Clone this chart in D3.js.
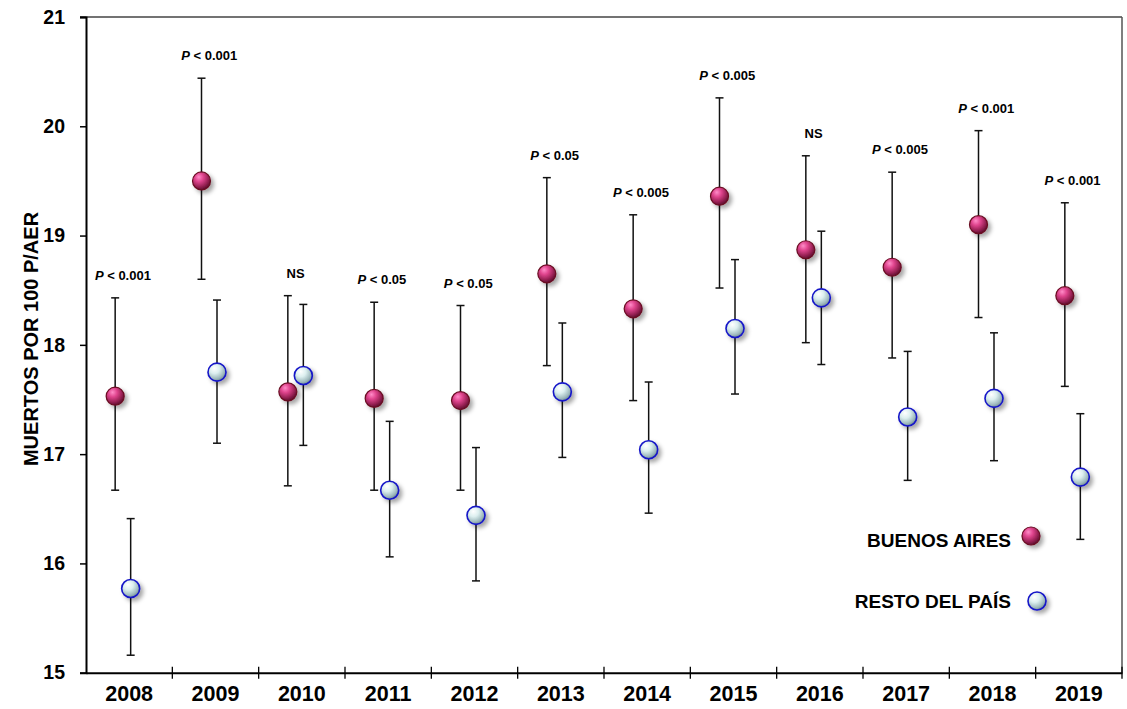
<!DOCTYPE html>
<html>
<head>
<meta charset="utf-8">
<script src="https://cdn.jsdelivr.net/npm/d3@7"></script>
<style>
  html, body { margin: 0; padding: 0; background: #fff; }
  svg { display: block; font-family: "Liberation Sans", Arial, sans-serif; }
  svg text { font-family: "Liberation Sans", Arial, sans-serif; font-weight: bold; fill: #000; }
</style>
</head>
<body>
<svg id="chart" width="1127" height="709"></svg>
<script>
const years = ["2008","2009","2010","2011","2012","2013","2014","2015","2016","2017","2018","2019"];
const baMean  = [17.53, 19.50, 17.57, 17.51, 17.49, 18.65, 18.33, 19.36, 18.87, 18.71, 19.10, 18.45];
const baUpper = [18.43, 20.44, 18.45, 18.39, 18.36, 19.53, 19.19, 20.26, 19.73, 19.58, 19.96, 19.30];
const baLower = [16.67, 18.60, 16.71, 16.67, 16.67, 17.81, 17.49, 18.52, 18.02, 17.88, 18.25, 17.62];
const restoMean  = [15.77, 17.75, 17.72, 16.67, 16.44, 17.57, 17.04, 18.15, 18.43, 17.34, 17.51, 16.79];
const restoUpper = [16.41, 18.41, 18.37, 17.30, 17.06, 18.20, 17.66, 18.78, 19.04, 17.94, 18.11, 17.37];
const restoLower = [15.16, 17.10, 17.08, 16.06, 15.84, 16.97, 16.46, 17.55, 17.82, 16.76, 16.94, 16.22];
const pLabels = ["0.001","0.001","NS","0.05","0.05","0.05","0.005","0.005","NS","0.005","0.001","0.001"];
const yTicks = [15, 16, 17, 18, 19, 20, 21];
const seriesNames = ["BUENOS AIRES", "RESTO DEL PAÍS"];
const yTitle = "MUERTOS POR 100 P/AER";

(function () {
const svg = d3.select("#chart");
const mLeft = 86, mTop = 17, mRight = 1122, mBottom = 672.7;

const x = d3.scaleBand().domain(years).range([mLeft, mRight]).padding(0);
const y = d3.scaleLinear().domain([15, 21]).range([mBottom, mTop]);

// defs: gradients and shadow
const defs = svg.append("defs");
const gBA = defs.append("radialGradient").attr("id", "gBA")
  .attr("cx", "38%").attr("cy", "32%").attr("r", "70%").attr("fx", "35%").attr("fy", "28%");
gBA.append("stop").attr("offset", "0%").attr("stop-color", "#ff8cc8");
gBA.append("stop").attr("offset", "35%").attr("stop-color", "#e0458e");
gBA.append("stop").attr("offset", "75%").attr("stop-color", "#952052");
gBA.append("stop").attr("offset", "100%").attr("stop-color", "#5a0e2c");
const gR = defs.append("radialGradient").attr("id", "gR")
  .attr("cx", "38%").attr("cy", "32%").attr("r", "70%").attr("fx", "35%").attr("fy", "28%");
gR.append("stop").attr("offset", "0%").attr("stop-color", "#ffffff");
gR.append("stop").attr("offset", "40%").attr("stop-color", "#dcefef");
gR.append("stop").attr("offset", "80%").attr("stop-color", "#9db8bc");
gR.append("stop").attr("offset", "100%").attr("stop-color", "#6f8a90");
const f = defs.append("filter").attr("id", "shadow").attr("x", "-50%").attr("y", "-50%").attr("width", "200%").attr("height", "200%");
f.append("feDropShadow").attr("dx", 3).attr("dy", 3).attr("stdDeviation", 2)
  .attr("flood-color", "#000").attr("flood-opacity", 0.35);

// frame top and right
svg.append("line").attr("x1", mLeft - 6).attr("x2", mRight).attr("y1", y(21)).attr("y2", y(21))
  .attr("stroke", "#444").attr("stroke-width", 1.5);
svg.append("line").attr("x1", mRight).attr("x2", mRight).attr("y1", y(21)).attr("y2", y(15))
  .attr("stroke", "#555").attr("stroke-width", 1.5);

// y axis
const yAxis = svg.append("g").attr("transform", `translate(${mLeft},0)`)
  .call(d3.axisLeft(y).tickValues(yTicks).tickFormat(d3.format("d")).tickSize(6).tickPadding(15));
yAxis.select(".domain").attr("stroke", "#000").attr("stroke-width", 2);
yAxis.selectAll(".tick line").attr("stroke", "#000").attr("stroke-width", 1.5);
yAxis.selectAll(".tick text").style("font-size", "19.5px").style("font-weight", "bold").style("fill", "#000");

// x axis
const xAxis = svg.append("g").attr("transform", `translate(0,${mBottom})`)
  .call(d3.axisBottom(x).tickSize(0).tickPadding(13.5));
xAxis.select(".domain").attr("stroke", "#000").attr("stroke-width", 2);
xAxis.selectAll(".tick text").style("font-size", "21.5px").style("font-weight", "bold").style("fill", "#000");
// separators between categories
const seps = years.map(d => x(d)).slice(1).concat([mRight]);
svg.append("g").selectAll("line").data(seps).join("line")
  .attr("x1", d => d).attr("x2", d => d).attr("y1", mBottom - 6).attr("y2", mBottom + 6)
  .attr("stroke", "#000").attr("stroke-width", 1.3);

// y title
svg.append("text").attr("transform", `translate(37.5,339) rotate(-90)`)
  .attr("text-anchor", "middle").style("font-size", "20px").text(yTitle);

const baX = d => x(d) + x.bandwidth() / 2 - 14;
const rX = d => x(d) + x.bandwidth() / 2 + 1.5;

function errorBars(xf, upper, lower) {
  const g = svg.append("g").attr("stroke", "#111").attr("stroke-width", 1.5);
  years.forEach((d, i) => {
    const cx = xf(d);
    g.append("line").attr("x1", cx).attr("x2", cx).attr("y1", y(upper[i])).attr("y2", y(lower[i]));
    g.append("line").attr("x1", cx - 4).attr("x2", cx + 4).attr("y1", y(upper[i])).attr("y2", y(upper[i]));
    g.append("line").attr("x1", cx - 4).attr("x2", cx + 4).attr("y1", y(lower[i])).attr("y2", y(lower[i]));
  });
}
errorBars(baX, baUpper, baLower);
errorBars(rX, restoUpper, restoLower);

// markers
svg.append("g").selectAll("circle").data(years).join("circle")
  .attr("cx", d => baX(d)).attr("cy", (d, i) => y(baMean[i])).attr("r", 9)
  .attr("fill", "url(#gBA)").attr("stroke", "#6a0c22").attr("stroke-width", 1.2)
  .attr("filter", "url(#shadow)");
svg.append("g").selectAll("circle").data(years).join("circle")
  .attr("cx", d => rX(d)).attr("cy", (d, i) => y(restoMean[i])).attr("r", 9)
  .attr("fill", "url(#gR)").attr("stroke", "#1414c8").attr("stroke-width", 1.6)
  .attr("filter", "url(#shadow)");

// p labels
const lab = svg.append("g").attr("text-anchor", "middle");
years.forEach((d, i) => {
  const cx = (baX(d) + rX(d)) / 2;
  const cy = y(Math.max(baUpper[i], restoUpper[i])) - 18;
  const t = lab.append("text").attr("x", cx).attr("y", cy).style("font-size", "13px");
  if (pLabels[i] === "NS") {
    t.text("NS");
  } else {
    t.append("tspan").style("font-style", "italic").text("P");
    t.append("tspan").text(" < " + pLabels[i]);
  }
});

// legend
const leg = svg.append("g");
seriesNames.forEach((name, i) => {
  leg.append("text").attr("x", 1011).attr("y", [546.7, 607.7][i]).attr("text-anchor", "end")
    .style("font-size", "19px").text(name);
  leg.append("circle").attr("cx", [1031, 1037][i]).attr("cy", [536, 601][i]).attr("r", 9)
    .attr("fill", i === 0 ? "url(#gBA)" : "url(#gR)")
    .attr("stroke", i === 0 ? "#6a0c22" : "#1414c8").attr("stroke-width", i === 0 ? 1.2 : 1.6)
    .attr("filter", "url(#shadow)");
});
})();
</script>
</body>
</html>
